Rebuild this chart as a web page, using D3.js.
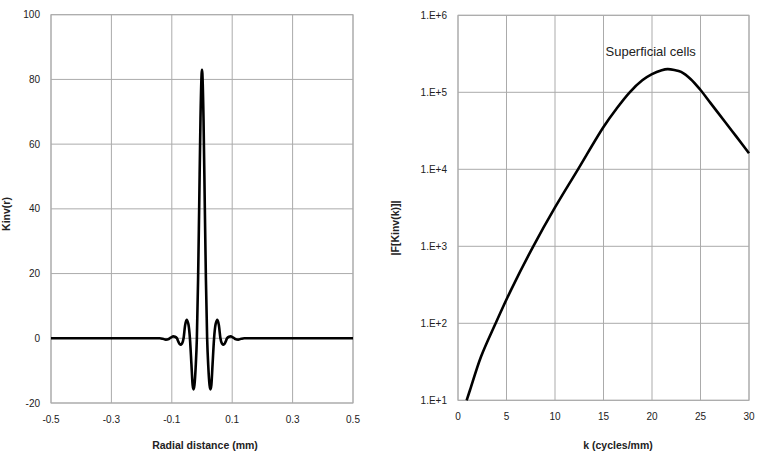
<!DOCTYPE html>
<html lang="en">
  <head>
    <meta charset="UTF-8" />
    <title>Kinv(r) and its Fourier transform</title>
    <script src="https://d3js.org/d3.v7.min.js"></script>
    <style>
      body {
        margin: 0;
        background: #fff;
      }
      .grid line,
      .frame {
        stroke: #ababab;
        stroke-width: 1px;
        fill: none;
      }
      .tick-label {
        font: 10px "Liberation Sans", sans-serif;
        fill: #222;
      }
      .axis-title {
        font: bold 10.5px "Liberation Sans", sans-serif;
        fill: #222;
      }
      .curve {
        fill: none;
        stroke: #000;
        stroke-width: 2.6px;
      }
    </style>
  </head>
  <body>
    <svg width="758" height="454"></svg>

    <script>
      // left panel: Kinv(r) against radial distance (mm)
      const radial = [
        -0.5, -0.3, -0.14, -0.13, -0.12, -0.11, -0.102, -0.095, -0.089,
        -0.083, -0.078, -0.072, -0.066, -0.061, -0.056, -0.051, -0.045,
        -0.04, -0.035, -0.031, -0.028, -0.025, -0.021, -0.017, -0.013,
        -0.0094, -0.005, 0, 0.005, 0.0094, 0.013, 0.017, 0.021, 0.025,
        0.028, 0.031, 0.035, 0.04, 0.045, 0.051, 0.056, 0.061, 0.066,
        0.072, 0.078, 0.083, 0.089, 0.095, 0.102, 0.11, 0.12, 0.13, 0.14,
        0.3, 0.5,
      ];
      const kinv = [
        0, 0, 0, -0.15, -0.4, -0.2, 0.3, 0.6, 0.5, 0, -1.1, -2.0, -1.6, 0,
        4, 5.7, 4.3, 0, -8, -14.5, -15.8, -14.5, -9, 0, 18, 40, 68, 83, 68,
        40, 18, 0, -9, -14.5, -15.8, -14.5, -8, 0, 4.3, 5.7, 4, 0, -1.6,
        -2.0, -1.1, 0, 0.5, 0.6, 0.3, -0.2, -0.4, -0.15, 0, 0, 0,
      ];
      const radialTicks = [-0.5, -0.3, -0.1, 0.1, 0.3, 0.5];
      const kinvTicks = [-20, 0, 20, 40, 60, 80, 100];

      // right panel: |F[Kinv(k)]| against k (cycles/mm)
      const freq = [
        0.89, 1.24, 2.37, 3.88, 5.46, 7.76, 10, 12.37, 15, 16.3, 17.7, 19,
        20, 21, 21.6, 22.3, 23, 24, 25, 26, 27.5, 28.7, 30,
      ];
      const spectrum = [
        10, 13.6, 36.8, 100, 270, 1000, 3200, 10000, 35500, 60300, 100000,
        143000, 172000, 193000, 200000, 195000, 184000, 148000, 107000,
        73500, 41700, 26600, 16200,
      ];
      const freqTicks = [0, 5, 10, 15, 20, 25, 30];
      const spectrumTicks = [1e1, 1e2, 1e3, 1e4, 1e5, 1e6];

      const svg = d3.select("svg");

      function drawPanel(opts) {
        const { x, y, xTicks, yTicks, xFmt, yFmt } = opts;
        const g = svg.append("g");
        const [x0, x1] = x.range();
        const [y0, y1] = y.range();

        const grid = g.append("g").attr("class", "grid");
        grid
          .selectAll(".gx")
          .data(xTicks)
          .join("line")
          .attr("x1", (d) => x(d))
          .attr("x2", (d) => x(d))
          .attr("y1", y0)
          .attr("y2", y1);
        grid
          .selectAll(".gy")
          .data(yTicks)
          .join("line")
          .attr("x1", x0)
          .attr("x2", x1)
          .attr("y1", (d) => y(d))
          .attr("y2", (d) => y(d));

        g.append("rect")
          .attr("class", "frame")
          .attr("x", x0)
          .attr("y", y1)
          .attr("width", x1 - x0)
          .attr("height", y0 - y1);

        g.selectAll(".xl")
          .data(xTicks)
          .join("text")
          .attr("class", "tick-label")
          .attr("x", (d) => x(d))
          .attr("y", y0 + 20)
          .attr("text-anchor", "middle")
          .text(xFmt);

        g.selectAll(".yl")
          .data(yTicks)
          .join("text")
          .attr("class", "tick-label")
          .attr("x", x0 - 11)
          .attr("y", (d) => y(d) + 3.5)
          .attr("text-anchor", "end")
          .text(yFmt);

        g.append("text")
          .attr("class", "axis-title")
          .attr("x", opts.xTitleX)
          .attr("y", 449)
          .attr("text-anchor", "middle")
          .text(opts.xTitle);

        g.append("text")
          .attr("class", "axis-title")
          .attr(
            "transform",
            `translate(${opts.yTitlePos[0]},${opts.yTitlePos[1]}) rotate(-90)`
          )
          .attr("text-anchor", "middle")
          .text(opts.yTitle);

        return g;
      }

      // left
      const xL = d3.scaleLinear().domain([-0.5, 0.5]).range([51, 353]);
      const yL = d3.scaleLinear().domain([-20, 100]).range([403, 14.7]);
      const left = drawPanel({
        x: xL,
        y: yL,
        xTicks: radialTicks,
        yTicks: kinvTicks,
        xFmt: (d) => d3.format(".1f")(d).replace("−", "-"),
        yFmt: (d) => d,
        xTitle: "Radial distance (mm)",
        xTitleX: 205,
        yTitle: "Kinv(r)",
        yTitlePos: [10, 214],
      });

      const lineL = d3
        .line()
        .x((d, i) => xL(radial[i]))
        .y((d) => yL(d))
        .curve(d3.curveMonotoneX);
      left.append("path").attr("class", "curve").attr("d", lineL(kinv));

      // right
      const xR = d3.scaleLinear().domain([0, 30]).range([458, 749]);
      const yR = d3.scaleLog().domain([1e1, 1e6]).range([400.3, 15.3]);
      const right = drawPanel({
        x: xR,
        y: yR,
        xTicks: freqTicks,
        yTicks: spectrumTicks,
        xFmt: (d) => d,
        yFmt: (d) => "1.E+" + Math.round(Math.log10(d)),
        xTitle: "k (cycles/mm)",
        xTitleX: 618,
        yTitle: "|F[Kinv(k)]|",
        yTitlePos: [398.5, 228],
      });

      const lineR = d3
        .line()
        .x((d, i) => xR(freq[i]))
        .y((d) => yR(d))
        .curve(d3.curveCatmullRom.alpha(0.5));
      right.append("path").attr("class", "curve").attr("d", lineR(spectrum));

      right
        .append("text")
        .attr("x", 605.5)
        .attr("y", 56)
        .style("font", '13px "Liberation Sans", sans-serif')
        .style("fill", "#222")
        .text("Superficial cells");
    </script>
  </body>
</html>
